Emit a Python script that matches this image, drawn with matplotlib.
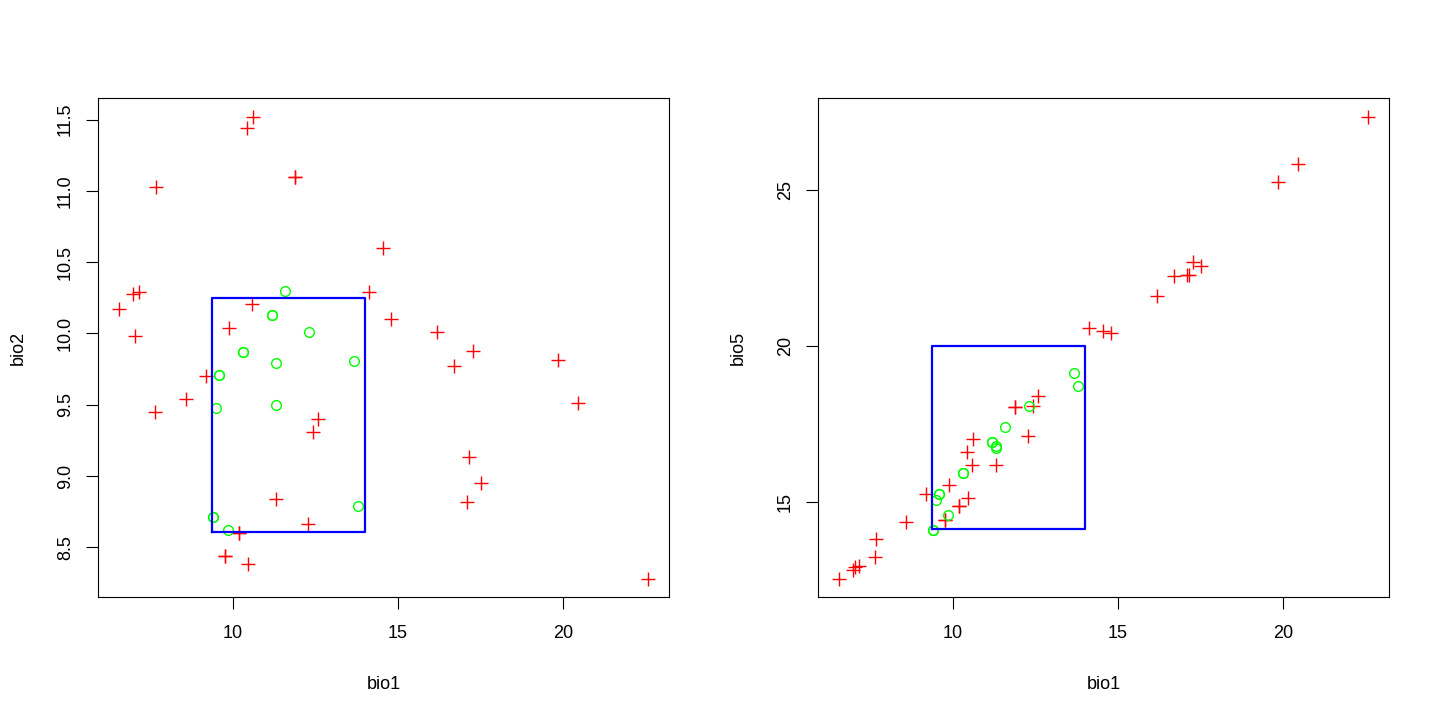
import numpy as np
import matplotlib.pyplot as plt

plt.rcParams['font.family'] = ['Liberation Sans', 'DejaVu Sans']

# background / absence points (red crosses): bio1, bio2, bio5
bg_bio1 = [6.58, 6.98, 7.16, 7.06, 7.69, 7.66, 8.60, 10.44, 10.63, 11.89, 11.89,
           14.56, 14.13, 10.60, 9.90, 9.21, 12.60, 12.43, 11.31, 12.28, 10.20, 10.20,
           9.78, 9.78, 10.46, 14.79, 16.18, 17.28, 16.70, 19.86, 20.44, 17.16, 17.53,
           17.09, 22.57]
bg_bio2 = [10.17, 10.275, 10.29, 9.98, 11.03, 9.45, 9.54, 11.44, 11.52, 11.10, 11.10,
           10.60, 10.29, 10.21, 10.04, 9.70, 9.40, 9.31, 8.84, 8.66, 8.60, 8.60,
           8.44, 8.44, 8.38, 10.10, 10.01, 9.88, 9.77, 9.815, 9.51, 9.13, 8.95,
           8.82, 8.28]
bg_bio5 = [12.54, 12.83, 12.94, 12.91, 13.82, 13.24, 14.35, 16.60, 17.03, 18.03, 18.03,
           20.49, 20.58, 16.19, 15.55, 15.26, 18.41, 18.08, 16.19, 17.12, 14.86, 14.86,
           14.41, 14.41, 15.13, 20.41, 21.59, 22.70, 22.26, 25.27, 25.83, 22.27, 22.58,
           22.27, 27.35]

# presence points (green circles)
pr_bio1 = [11.59, 11.21, 11.21, 12.32, 10.33, 10.33, 11.32, 13.68, 9.58, 9.58,
           9.51, 11.32, 13.80, 9.40, 9.40, 9.86]
pr_bio2 = [10.30, 10.13, 10.13, 10.01, 9.87, 9.87, 9.79, 9.81, 9.71, 9.71,
           9.48, 9.50, 8.79, 8.71, 8.71, 8.62]
pr_bio5 = [17.39, 16.91, 16.91, 18.08, 15.93, 15.93, 16.80, 19.12, 15.26, 15.26,
           15.07, 16.72, 18.72, 14.11, 14.11, 14.59]

# envelope box
box_bio1 = [9.39, 14.0]
box_bio2 = [8.61, 10.25]
box_bio5 = [14.13, 20.0]


def rlim(v):
    # R style axis range: data range plus 4% on each side
    lo, hi = min(v), max(v)
    d = (hi - lo) * 0.04
    return lo - d, hi + d


fig = plt.figure(figsize=(14.4, 7.2), dpi=100)
ax1 = fig.add_axes([0.0683, 0.1708, 0.3963, 0.6926])
ax2 = fig.add_axes([0.5683, 0.1708, 0.3963, 0.6926])

panels = [(ax1, bg_bio2, pr_bio2, box_bio2, 'bio2', [8.5, 9.0, 9.5, 10.0, 10.5, 11.0, 11.5]),
          (ax2, bg_bio5, pr_bio5, box_bio5, 'bio5', [15, 20, 25])]

for ax, bgy, pry, boxy, ylab, yt in panels:
    ax.plot(bg_bio1, bgy, linestyle='none', marker='+', color='#FF0000',
            markersize=10, markeredgewidth=1.0)
    ax.plot(pr_bio1, pry, linestyle='none', marker='o', markerfacecolor='none',
            markeredgecolor='#00FF00', markersize=7, markeredgewidth=1.0)
    bx = [box_bio1[0], box_bio1[1], box_bio1[1], box_bio1[0], box_bio1[0]]
    by = [boxy[0], boxy[0], boxy[1], boxy[1], boxy[0]]
    ax.plot(bx, by, color='#0000FF', linewidth=1.6)

    ax.set_xlim(*rlim(bg_bio1 + pr_bio1))
    ax.set_ylim(*rlim(bgy + pry))
    ax.set_xticks([10, 15, 20])
    ax.set_yticks(yt)
    ax.tick_params(direction='out', length=8.5, width=0.8, labelsize=13, pad=12)
    ax.tick_params(axis='y', labelrotation=90, pad=9)
    for t in ax.get_yticklabels():
        t.set_va('center')
    for s in ax.spines.values():
        s.set_linewidth(0.8)
    ax.set_xlabel('bio1', fontsize=13, labelpad=24)
    ax.set_ylabel(ylab, fontsize=13, labelpad=22)

fig.savefig('out.png', dpi=100)
